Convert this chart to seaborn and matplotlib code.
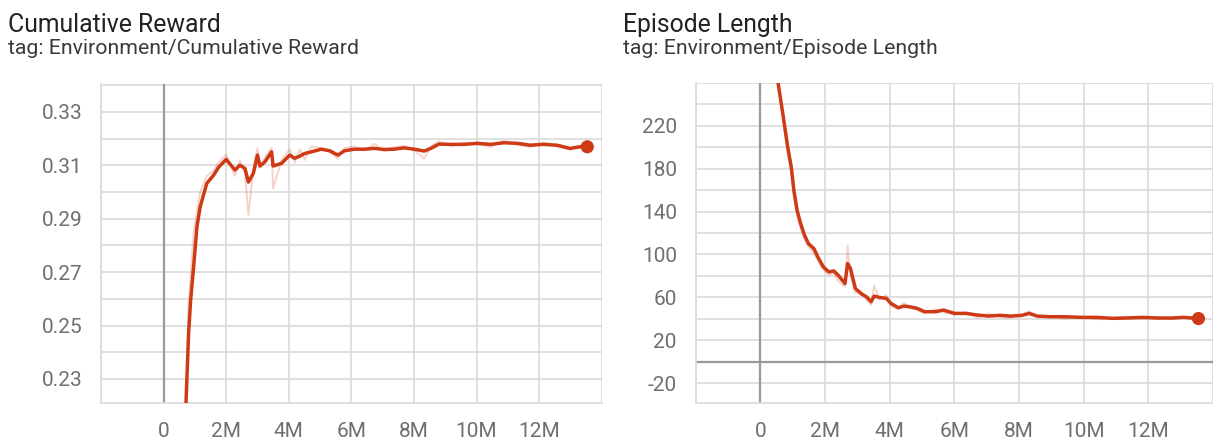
import matplotlib
matplotlib.use("Agg")
import matplotlib.pyplot as plt
import seaborn as sns
import pandas as pd

sns.set_style("white")
plt.rcParams["font.family"] = ["Roboto", "DejaVu Sans"]

# ---------------- data ----------------
reward_steps_m = [0.68, 0.716, 0.80, 0.864, 0.96, 1.066, 1.17, 1.38, 1.60, 1.755,
                  2.0, 2.28, 2.44, 2.60, 2.71, 2.87, 3.0, 3.08, 3.24, 3.45,
                  3.50, 3.77, 4.03, 4.19, 4.35, 4.51, 4.72, 5.04, 5.31, 5.57,
                  5.78, 6.10, 6.42, 6.74, 7.05, 7.37, 7.69, 8.01, 8.33, 8.54,
                  8.80, 9.18, 9.60, 10.03, 10.45, 10.87, 11.30, 11.71, 12.14, 12.57,
                  12.99, 13.31, 13.54]
reward_smoothed = [0.205, 0.221, 0.2471, 0.2594, 0.272, 0.287, 0.2945, 0.3032, 0.3063, 0.3092,
                   0.3122, 0.3082, 0.3100, 0.3088, 0.3037, 0.3070, 0.3138, 0.3097, 0.3113, 0.3150,
                   0.3097, 0.3107, 0.3138, 0.3126, 0.3134, 0.3144, 0.3150, 0.3160, 0.3154, 0.3138,
                   0.3154, 0.3160, 0.3160, 0.3163, 0.3159, 0.3160, 0.3165, 0.3160, 0.3153, 0.3163,
                   0.3179, 0.3178, 0.3178, 0.3182, 0.3178, 0.3184, 0.3182, 0.3175, 0.3178, 0.3175,
                   0.3163, 0.3169, 0.3169]
reward_raw = [0.200, 0.218, 0.258, 0.268, 0.285, 0.293, 0.300, 0.306, 0.308, 0.311,
              0.314, 0.306, 0.312, 0.307, 0.2913, 0.309, 0.3165, 0.309, 0.313, 0.3165,
              0.3013, 0.312, 0.316, 0.311, 0.316, 0.312, 0.317, 0.3165, 0.315, 0.3125,
              0.3165, 0.317, 0.3155, 0.318, 0.3152, 0.3168, 0.3172, 0.3155, 0.3125, 0.3172,
              0.319, 0.3172, 0.3185, 0.3178, 0.3168, 0.3192, 0.3176, 0.3168, 0.3186, 0.3170,
              0.3158, 0.3175, 0.3169]

length_steps_m = [0.45, 0.557, 0.70, 0.85, 0.96, 1.04, 1.14, 1.25, 1.37, 1.49,
                  1.66, 1.78, 1.95, 2.12, 2.27, 2.41, 2.62, 2.70, 2.79, 2.94,
                  3.11, 3.28, 3.43, 3.52, 3.69, 3.90, 4.04, 4.27, 4.44, 4.62,
                  4.85, 5.08, 5.43, 5.66, 6.01, 6.36, 6.71, 7.06, 7.40, 7.75,
                  8.10, 8.31, 8.56, 8.91, 9.38, 9.96, 10.42, 10.89, 11.35, 11.81,
                  12.28, 12.74, 13.09, 13.55]
length_smoothed = [300, 258.7, 230.8, 199.9, 181.3, 159.6, 141.0, 128.6, 117.8, 110.1,
                   105.4, 97.7, 88.4, 83.7, 84.7, 80.6, 72.9, 91.5, 86.8, 68.3,
                   63.6, 60.5, 55.9, 61.1, 59.9, 59.0, 54.3, 50.3, 51.8, 51.2,
                   49.7, 46.6, 46.6, 48.1, 45.0, 45.0, 43.5, 42.5, 43.2, 42.5,
                   43.2, 45.0, 42.5, 41.9, 41.9, 41.3, 41.3, 40.4, 40.7, 41.3,
                   40.7, 40.7, 41.3, 40.2]
length_raw = [305, 262, 226, 194, 176, 154, 136, 124, 114, 107,
              101, 94, 86, 81, 83, 75, 70, 108.4, 80, 64,
              66, 58, 53, 71, 58, 62, 52, 49, 55, 50,
              48, 45, 49, 46, 44, 46, 41, 45, 42, 41,
              44, 47, 42, 43, 40, 42, 39.5, 41, 42, 40,
              41.5, 40, 41, 40.2]

titles = ["Cumulative Reward", "Episode Length"]
subtitles = ["tag: Environment/Cumulative Reward", "tag: Environment/Episode Length"]
x_tick_values = [-2, 0, 2, 4, 6, 8, 10, 12, 14]

# ---------------- style ----------------
LINE = "#cf3a16"
GRID = "#dadada"
ZERO = "#9a9a9a"
TICKTXT = "#6f6f6f"

W, H = 1213, 441
fig = plt.figure(figsize=(W / 100, H / 100), dpi=100)

def px_axes(x0, y0, x1, y1):
    return fig.add_axes([x0 / W, 1 - y1 / H, (x1 - x0) / W, (y1 - y0) / H])

ax1 = px_axes(101, 84, 602.3, 403.3)
ax2 = px_axes(695.6, 83, 1213, 403)


def style_axes(ax, xlim, ylim, yticks, ylabels):
    ax.set_xlim(*xlim)
    ax.set_ylim(*ylim)
    ax.set_xticks(x_tick_values)
    ax.set_xticklabels(["" if v in (-2, 14) else ("0" if v == 0 else f"{v}M")
                        for v in x_tick_values])
    ax.set_yticks(yticks)
    ax.set_yticklabels(ylabels)
    ax.grid(True, color=GRID, linewidth=1.2, zorder=0)
    ax.set_axisbelow(True)
    ax.tick_params(axis="both", length=6.5, width=1.1, color=GRID,
                   labelsize=15, labelcolor=TICKTXT, pad=7)
    for s in ["top", "right"]:
        ax.spines[s].set_visible(False)
    for s in ["left", "bottom"]:
        ax.spines[s].set_color(GRID)
        ax.spines[s].set_linewidth(1.2)
    ax.set_xlabel("")
    ax.set_ylabel("")


# ---- left panel ----
df_r = pd.DataFrame({"step": reward_steps_m, "smoothed": reward_smoothed, "raw": reward_raw})
sns.lineplot(data=df_r, x="step", y="raw", ax=ax1, color=LINE, alpha=0.22, linewidth=1.4, zorder=3)
sns.lineplot(data=df_r, x="step", y="smoothed", ax=ax1, color=LINE, linewidth=2.5, zorder=4)
sns.scatterplot(x=reward_steps_m[-1:], y=reward_smoothed[-1:], ax=ax1, color=LINE,
                s=90, edgecolor="none", zorder=5, clip_on=False)
ax1.axvline(0, color=ZERO, linewidth=1.6, zorder=2)
r_ticks = [round(0.23 + 0.01 * i, 2) for i in range(12)]
r_labels = [f"{v:.2f}" if i % 2 == 0 else "" for i, v in enumerate(r_ticks)]
style_axes(ax1, (-1.92, 14.02), (0.2209, 0.3404), r_ticks, r_labels)

# ---- right panel ----
df_l = pd.DataFrame({"step": length_steps_m, "smoothed": length_smoothed, "raw": length_raw})
sns.lineplot(data=df_l, x="step", y="raw", ax=ax2, color=LINE, alpha=0.22, linewidth=1.4, zorder=3)
sns.lineplot(data=df_l, x="step", y="smoothed", ax=ax2, color=LINE, linewidth=2.5, zorder=4)
sns.scatterplot(x=length_steps_m[-1:], y=length_smoothed[-1:], ax=ax2, color=LINE,
                s=90, edgecolor="none", zorder=5, clip_on=False)
ax2.axvline(0, color=ZERO, linewidth=1.6, zorder=2)
ax2.axhline(0, color=ZERO, linewidth=1.6, zorder=2)
l_ticks = list(range(-20, 261, 20))
l_labels = [str(v) if (v - 20) % 40 == 0 and v < 250 else "" for v in l_ticks]
style_axes(ax2, (-2.0, 13.87), (-38.6, 259.3), l_ticks, l_labels)

# ---- titles ----
for x0, t, st in [(8, titles[0], subtitles[0]), (622.7, titles[1], subtitles[1])]:
    fig.text(x0 / W, 1 - 32.3 / H, t, fontsize=17.8, color="#222222", va="baseline", ha="left")
    fig.text(x0 / W, 1 - 54.0 / H, st, fontsize=15.3, color="#3a3a3a", va="baseline", ha="left")

fig.savefig("out.png", dpi=100)
